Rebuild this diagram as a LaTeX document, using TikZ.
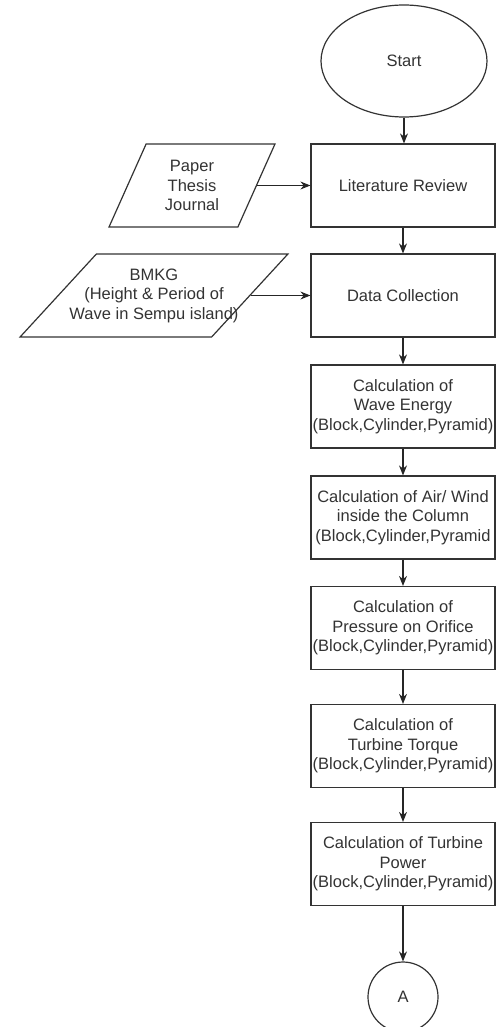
\documentclass[tikz,border=0pt]{standalone}
\usepackage{fontspec}
\setmainfont{Liberation Sans}
\usetikzlibrary{shapes.geometric,arrows.meta}

\tikzset{
    every node/.style={font=\fontsize{16.5}{19.5}\selectfont, text=black!80},
    proc/.style={draw=black!80, line width=1.2pt, minimum width=184, minimum height=83, align=center, inner sep=0pt},
    io/.style={trapezium, draw=black!80, line width=1.2pt, trapezium stretches=true, minimum height=83, inner sep=2pt},
    arr/.style={-{Stealth[length=10pt,width=8pt]}, line width=1.2pt, black!85}
}

\begin{document}
\begin{tikzpicture}[x=1pt,y=-1pt]

        \useasboundingbox (0,0) rectangle (495,1027);

        \node[ellipse, draw=black!80, line width=1.2pt, minimum width=166, minimum height=112] (start) at (404,61) {Start};

        \node[proc] (lit) at (403,185.5) {Literature Review};
        \node[proc] (data) at (403,295.5) {Data Collection};

        % input sources
        \node[io, trapezium left angle=68, trapezium right angle=112, minimum width=166,
              label={[align=center]center:Paper\\Thesis\\Journal}] (paper) at (192,185.5) {};
        \node[io, trapezium left angle=56.5, trapezium right angle=123.5, minimum width=268,
              label={[align=center]center:BMKG\\(Height \& Period of\\Wave in Sempu island)}] (bmkg) at (154,295.5) {};

        \foreach \y/\name/\txt in {
            406.5/calcA/{Calculation of\\Wave Energy\\(Block,Cylinder,Pyramid)},
            517.5/calcB/{Calculation of Air/ Wind\\inside the Column\\(Block,Cylinder,Pyramid},
            628/calcC/{Calculation of\\Pressure on Orifice\\(Block,Cylinder,Pyramid)},
            746/calcD/{Calculation of\\Turbine Torque\\(Block,Cylinder,Pyramid)},
            864/calcE/{Calculation of Turbine\\Power\\(Block,Cylinder,Pyramid)}}
            \node[proc] (\name) at (403,\y) {\txt};

        \node[circle, draw=black!80, line width=1.2pt, minimum size=70] (conA) at (403,997) {A};

        \foreach \a/\b in {lit/data, data/calcA, calcA/calcB, calcB/calcC, calcC/calcD, calcD/calcE, calcE/conA}
            \draw[arr] (\a) -- (\b);
        \draw[arr] (start.south) -- (start.south |- lit.north);

        \draw[arr] (paper.east) -- (lit.west);
        \draw[arr] (bmkg.east) -- (data.west);

\end{tikzpicture}
\end{document}
